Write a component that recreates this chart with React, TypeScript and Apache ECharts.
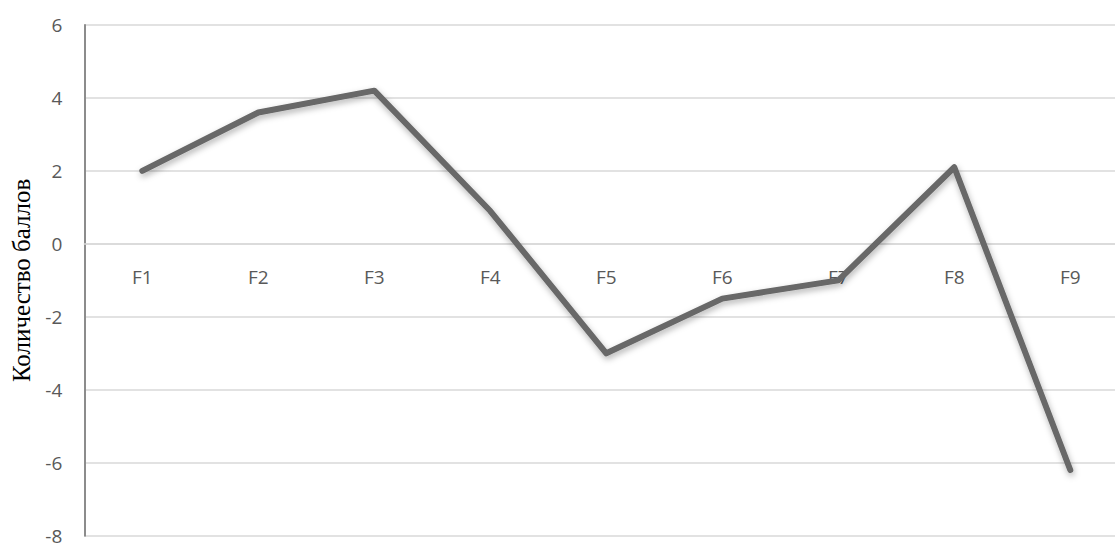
import React, { useEffect, useRef } from "react";
import * as echarts from "echarts";

// Factor labels along the category axis
const categories = ["F1", "F2", "F3", "F4", "F5", "F6", "F7", "F8", "F9"];
// Score per factor
const scores = [2.0, 3.6, 4.2, 0.9, -3.0, -1.5, -1.0, 2.1, -6.2];
// Value axis range
const yMin = -8;
const yMax = 6;
const yStep = 2;
const yTitle = "Количество баллов";

// Plot area box inside the chart div
const GRID_TOP = 25;
const GRID_BOTTOM = 7.3;
const CHART_W = 1140;
const CHART_H = 543;

export default function App() {
  const ref = useRef<HTMLDivElement>(null);

  useEffect(() => {
    if (!ref.current) return;
    const chart = echarts.init(ref.current, undefined, { renderer: "svg" });
    // The category axis sits on the value axis' zero line
    const plotH = CHART_H - GRID_TOP - GRID_BOTTOM;
    const zeroFromBottom = (plotH * (0 - yMin)) / (yMax - yMin);
    chart.setOption({
      animation: false,
      backgroundColor: "#ffffff",
      grid: {
        left: 84.3,
        right: 11.7,
        top: GRID_TOP,
        bottom: GRID_BOTTOM,
        containLabel: false,
        outerBoundsMode: "none",
      },
      xAxis: {
        type: "category",
        data: categories,
        boundaryGap: true,
        position: "bottom",
        offset: -zeroFromBottom,
        axisLine: { show: true, onZero: false, lineStyle: { color: "#d9d9d9", width: 1.5 } },
        axisTick: { show: false },
        splitLine: { show: false },
        axisLabel: {
          margin: 24,
          color: "#595959",
          fontFamily: "Open Sans",
          fontSize: 19,
        },
      },
      yAxis: {
        type: "value",
        min: yMin,
        max: yMax,
        interval: yStep,
        name: yTitle,
        nameLocation: "middle",
        nameRotate: 90,
        nameGap: 50,
        nameTextStyle: {
          fontFamily: "Liberation Serif",
          fontSize: 25,
          color: "#000000",
        },
        axisLine: { show: true, onZero: false, lineStyle: { color: "#8c8c8c", width: 2 } },
        axisTick: { show: false },
        splitLine: { show: true, lineStyle: { color: "#d9d9d9", width: 1.5 } },
        axisLabel: {
          margin: 22,
          color: "#595959",
          fontFamily: "Open Sans",
          fontSize: 19,
        },
      },
      series: [
        {
          type: "line",
          data: scores,
          symbol: "none",
          smooth: false,
          lineStyle: {
            color: "#676767",
            width: 6,
            cap: "round",
            join: "round",
            shadowColor: "rgba(0,0,0,0.3)",
            shadowBlur: 6,
            shadowOffsetX: 1,
            shadowOffsetY: 3,
          },
        },
      ],
    });
    return () => chart.dispose();
  }, []);

  return (
    <div
      style={{
        position: "absolute",
        left: 0,
        top: 0,
        width: 1115,
        height: CHART_H,
        overflow: "hidden",
        background: "#ffffff",
      }}
    >
      <div ref={ref} style={{ width: CHART_W, height: CHART_H }} />
    </div>
  );
}
